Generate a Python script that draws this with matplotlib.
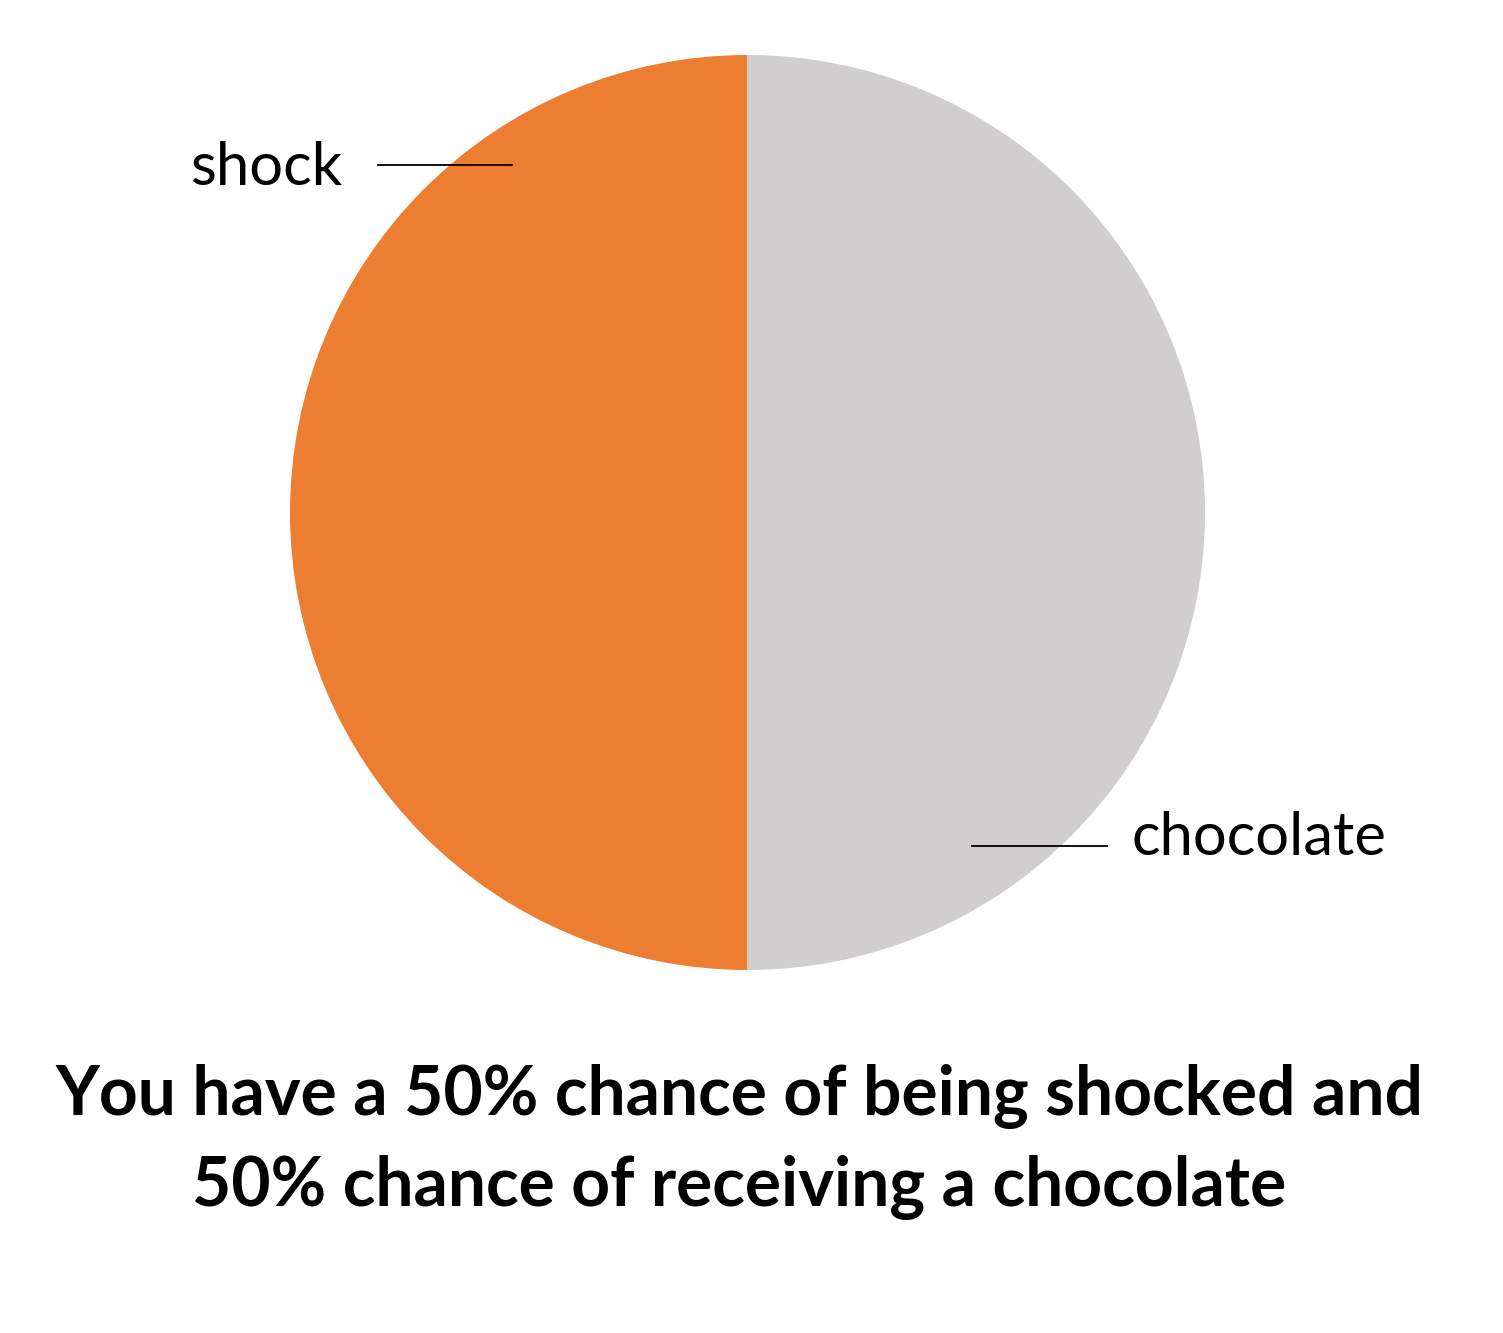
import matplotlib.pyplot as plt

labels = ['shock', 'chocolate']
shares = [50, 50]
colors = ['#ED7D31', '#D0CECE']
title = 'You have a 50% chance of being shocked and\n50% chance of receiving a chocolate'

plt.rcParams['font.family'] = ['Lato', 'DejaVu Sans']

W, H = 1503, 1333
fig = plt.figure(figsize=(W / 100, H / 100), dpi=100)

# pie centre and radius in pixels
cx, cy, r = 747.5, 512.5, 457.5
ax = fig.add_axes([(cx - r) / W, (H - cy - r) / H, 2 * r / W, 2 * r / H])
ax.pie(shares, colors=colors, startangle=90, counterclock=True, radius=1,
       wedgeprops=dict(linewidth=0))
ax.set_xlim(-1, 1)
ax.set_ylim(-1, 1)
ax.set_aspect('equal')
ax.axis('off')


def px(x, y):
    return (x - cx) / r, (cy - y) / r


# leader lines + labels
(x0, y0), (x1, _) = px(378, 165), px(512, 165)
ax.plot([x0, x1], [y0, y0], color='black', lw=1.3, clip_on=False)
tx, ty = px(342, 168)
ax.text(tx, ty, labels[0], ha='right', va='center', fontsize=43, clip_on=False)

(x0, y0), (x1, _) = px(972, 846), px(1107, 846)
ax.plot([x0, x1], [y0, y0], color='black', lw=1.3, clip_on=False)
tx, ty = px(1132, 838)
ax.text(tx, ty, labels[1], ha='left', va='center', fontsize=43, clip_on=False)

fig.text(739 / W, 1 - 1142 / H, title, ha='center', va='center', fontsize=48.8,
         fontweight='bold', linespacing=1.5)

fig.savefig('out.png', dpi=100)
